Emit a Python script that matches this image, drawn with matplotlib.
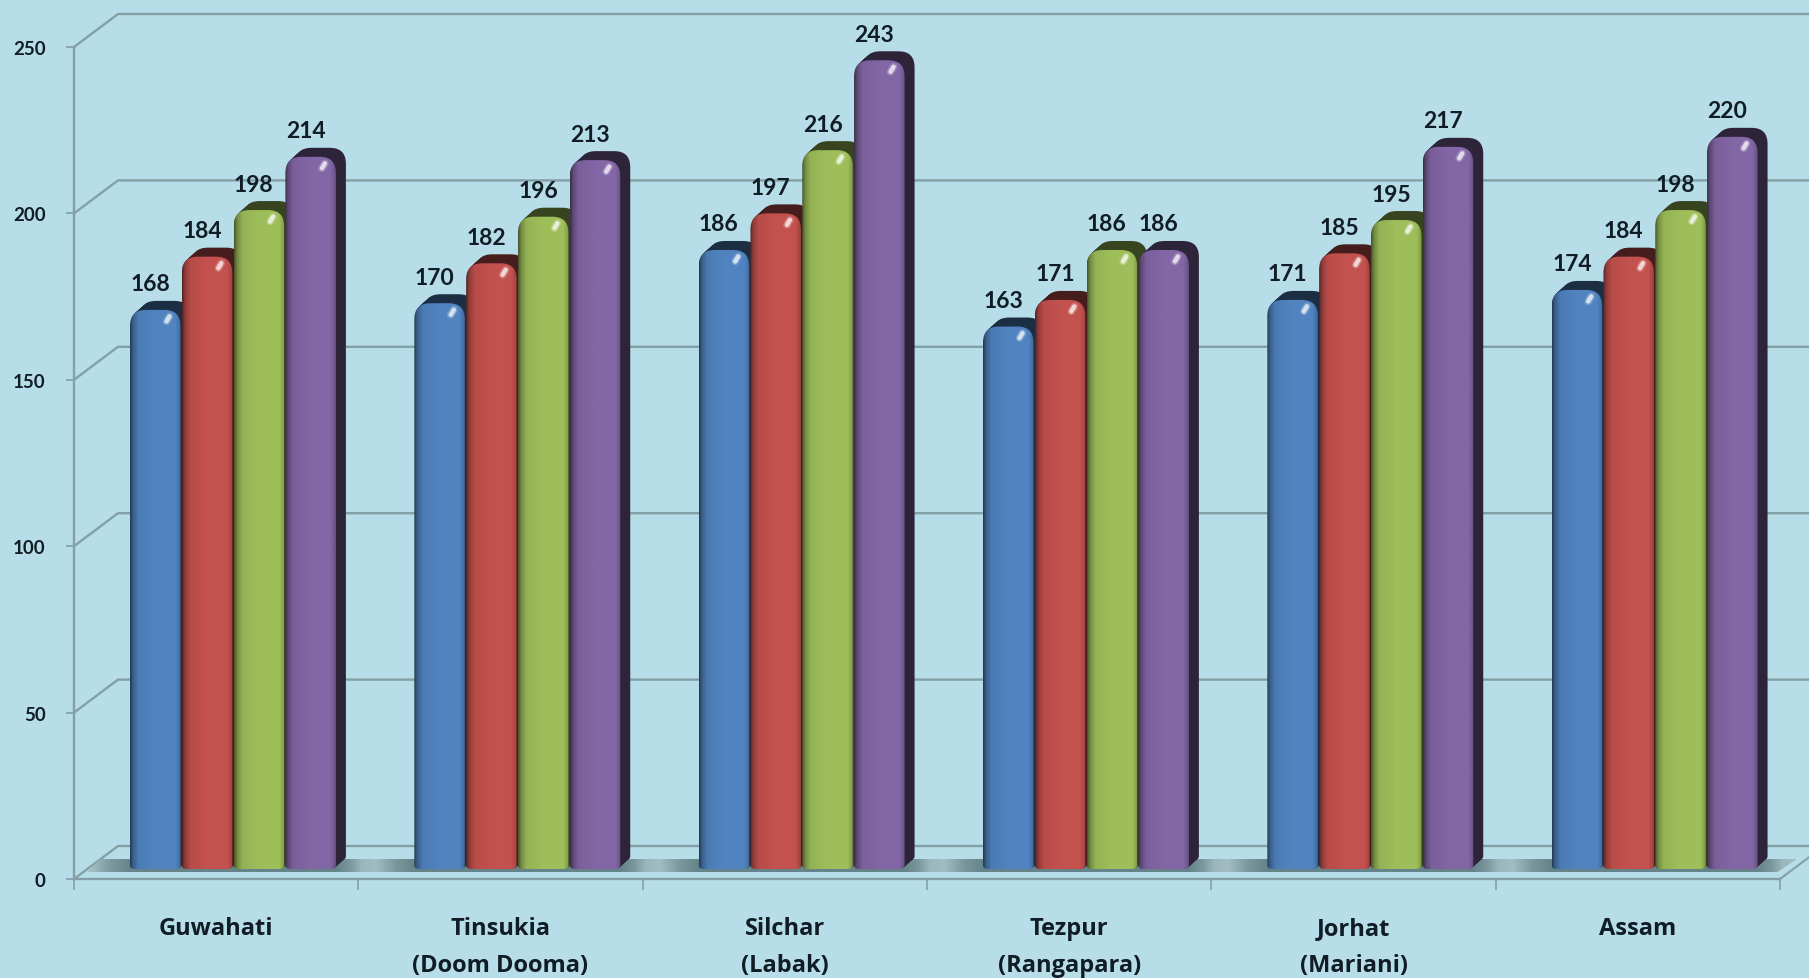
import numpy as np
import matplotlib
matplotlib.use("Agg")
import matplotlib.pyplot as plt
from matplotlib.colors import LinearSegmentedColormap, to_rgb
from matplotlib.patches import PathPatch, Polygon
from matplotlib.path import Path

categories = ["Guwahati", "Tinsukia\n(Doom Dooma)", "Silchar\n(Labak)",
              "Tezpur\n(Rangapara)", "Jorhat\n(Mariani)", "Assam"]
series_1 = [168, 170, 186, 163, 171, 174]
series_2 = [184, 182, 197, 171, 185, 184]
series_3 = [198, 196, 216, 186, 195, 198]
series_4 = [214, 213, 243, 186, 217, 220]
y_ticks = [0, 50, 100, 150, 200, 250]

colors = ["#4F81BD", "#C0504D", "#9BBB59", "#8064A2"]
BG = "#B7DDE8"
LINE = "#84A0A6"
INK = "#101C26"
FONT = ["Lato", "DejaVu Sans"]
LABEL_FONT = ["Open Sans", "DejaVu Sans"]

# axes box in pixels of the 1809x979 picture
W, H = 1809, 979
X0, X1, Y_TOP, Y_BOT = 74, 1780, 48, 880
PX_X = 6 / (X1 - X0)            # data units per pixel
PX_Y = 250 / (Y_BOT - Y_TOP)

fig = plt.figure(figsize=(W / 100, H / 100), dpi=100, facecolor=BG)
ax = fig.add_axes([X0 / W, 1 - Y_BOT / H, (X1 - X0) / W, (Y_BOT - Y_TOP) / H])
ax.patch.set_alpha(0)


def bar_path(x0, x1, y0, y1):
    rx, ry = 16 * PX_X, 16 * PX_Y
    bx, by = 5 * PX_X, 4 * PX_Y
    verts = [(x0 + bx, y0), (x1 - bx, y0), (x1, y0), (x1, y0 + by),
             (x1, y1 - ry), (x1, y1), (x1 - rx, y1),
             (x0 + rx, y1), (x0, y1), (x0, y1 - ry),
             (x0, y0 + by), (x0, y0), (x0 + bx, y0), (x0 + bx, y0)]
    codes = [Path.MOVETO, Path.LINETO, Path.CURVE3, Path.CURVE3,
             Path.LINETO, Path.CURVE3, Path.CURVE3,
             Path.LINETO, Path.CURVE3, Path.CURVE3,
             Path.LINETO, Path.CURVE3, Path.CURVE3, Path.CLOSEPOLY]
    return Path(verts, codes)


def draw_bar(x0, value, color):
    x1 = x0 + BAR_W
    y0 = BASE
    y1 = BASE + value
    rgb = np.array(to_rgb(color))

    # dark side and cap, swept back
    for k in np.linspace(1, 0.1, 8):
        p = bar_path(x0 + k * 10 * PX_X, x1 + k * 10 * PX_X,
                     y0 + k * 9 * PX_Y, y1 + k * 9 * PX_Y)
        ax.add_patch(PathPatch(p, fc=rgb * 0.36, ec="none", zorder=3))

    # front face with a sideways shading
    pos = np.linspace(0, 1, 64)
    shade = np.interp(pos, [0, 0.05, 0.16, 0.5, 0.9, 1], [0.45, 0.72, 0.95, 1.02, 1.02, 0.82])
    img = np.clip(rgb[None, None, :] * shade[None, :, None], 0, 1)
    im = ax.imshow(img, extent=[x0, x1, y0, y1], aspect="auto", zorder=4,
                   interpolation="bilinear")
    clip = PathPatch(bar_path(x0, x1, y0, y1), fc="none", ec="none", zorder=4)
    ax.add_patch(clip)
    im.set_clip_path(clip)

    # small soft glint near the top
    gx = x0 + 38 * PX_X
    gy = y1 - 9 * PX_Y
    for lw, alpha in [(5.5, 0.22), (3.2, 0.7)]:
        ax.plot([gx - 1.5 * PX_X, gx + 1.5 * PX_X], [gy - 2.5 * PX_Y, gy + 2.5 * PX_Y],
                color="white", lw=lw, alpha=alpha, solid_capstyle="round", zorder=5)

    # value label
    ax.text(x0 + BAR_W / 2 - 5 * PX_X, y1 + 26 * PX_Y, str(value), ha="center", va="center",
            family=FONT, fontsize=16.5, fontweight="bold", color=INK, zorder=6)


BASE = 10 * PX_Y
BAR_W = 50.5 * PX_X
PITCH = 51.8 * PX_X
START = 56 * PX_X
DEPTH_X = 44 * PX_X
DEPTH_Y = 33 * PX_Y

# back wall grid and floor outline
for v in y_ticks:
    ax.plot([0, DEPTH_X, 6 + 2 * DEPTH_X], [v, v + DEPTH_Y, v + DEPTH_Y],
            color=LINE, lw=1.7, clip_on=False, zorder=1)
ax.plot([6, 6 + DEPTH_X], [0, DEPTH_Y], color=LINE, lw=1.5, clip_on=False, zorder=1)

# floor band below the bars
band_cmap = LinearSegmentedColormap.from_list(
    "band", ["#7E9A9F", "#64848A", "#7A979C", "#A2BEC3", "#8AA6AB"])
phase = (np.linspace(0, 6 + DEPTH_X, 1500) - 0.06) % 1
band = np.interp(phase, [0, 0.14, 0.86, 0.95, 1], [0.75, 0.25, 0.25, 0.7, 0.75])
im = ax.imshow(band[None, :], cmap=band_cmap, vmin=0, vmax=1, aspect="auto",
               extent=[0, 6 + DEPTH_X, 2, 6], zorder=2, interpolation="bilinear")
poly = Polygon([(13 * PX_X, 2), (26 * PX_X, 6), (6 + 17 * PX_X, 6), (6 - 3 * PX_X, 2)],
               fc="none", ec="none", zorder=2)
ax.add_patch(poly)
im.set_clip_path(poly)
im.set_clip_box(fig.bbox)

# bars
all_series = [series_1, series_2, series_3, series_4]
for i in range(len(categories)):
    for j, vals in enumerate(all_series):
        draw_bar(i + START + j * PITCH, vals[i], colors[j])

ax.set_xlim(0, 6)
ax.set_ylim(0, 250)

for s in ["top", "right"]:
    ax.spines[s].set_visible(False)
for s in ["left", "bottom"]:
    ax.spines[s].set_color(LINE)
    ax.spines[s].set_linewidth(1.7)
    ax.spines[s].set_zorder(7)

ax.set_yticks(y_ticks)
ax.tick_params(axis="y", length=5.8, width=1.2, color=LINE, pad=14.5, labelsize=13.5, labelcolor=INK)
for lab in ax.get_yticklabels():
    lab.set_family(FONT)
    lab.set_fontweight("bold")

ax.set_xticks(range(7))
ax.tick_params(axis="x", which="major", length=8, width=1.2, color=LINE, labelbottom=False)
ax.set_xticks(np.arange(6) + 0.5, minor=True)
ax.set_xticklabels(categories, minor=True, family=LABEL_FONT, fontsize=17, fontweight="bold",
                   color=INK, linespacing=1.72)
ax.tick_params(axis="x", which="minor", length=0, pad=27)

fig.savefig("out.png", dpi=100, facecolor=BG)
